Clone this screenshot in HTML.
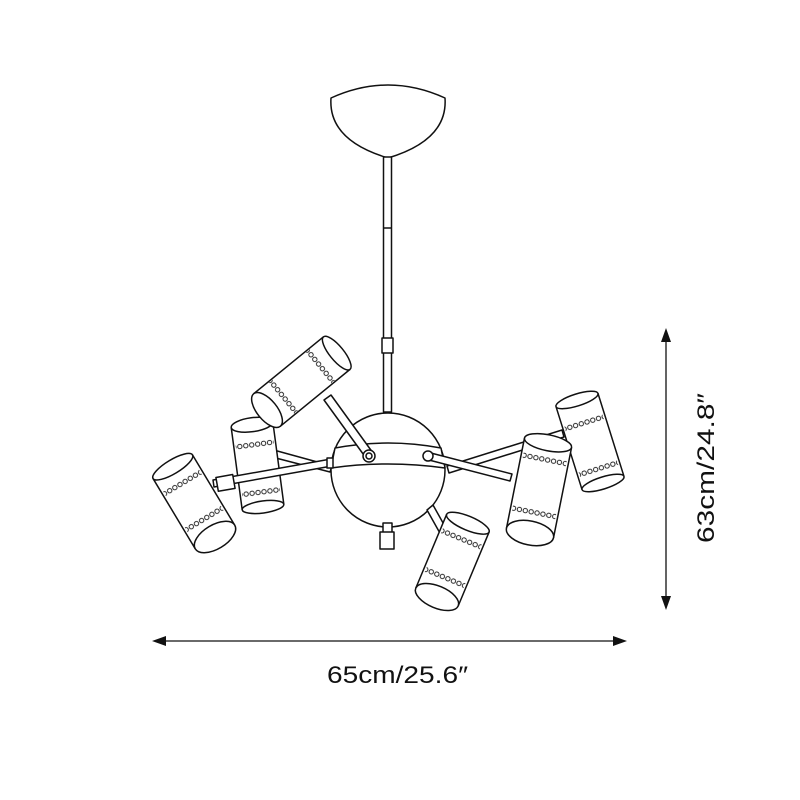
<!DOCTYPE html>
<html><head><meta charset="utf-8"><style>
html,body{margin:0;padding:0;background:#fff;}
svg{display:block;}
</style></head><body>
<svg width="800" height="800" viewBox="0 0 800 800" xmlns="http://www.w3.org/2000/svg">
<defs>
<pattern id="dots" x="0" y="0" width="6" height="6" patternUnits="userSpaceOnUse">
<circle cx="3" cy="3" r="2.2" fill="#fff" stroke="#111" stroke-width="0.9"/>
</pattern>
</defs>
<g fill="none" stroke="#111" stroke-width="1.5" stroke-linejoin="round">
<path d="M331,98 Q388,72 445,98 Q448,140 388,158 Q328,140 331,98 Z" fill="#fff"/>
<rect x="383.5" y="157" width="8" height="255" fill="#fff"/>
<line x1="383.5" y1="228" x2="391.5" y2="228"/>
<rect x="382" y="338" width="11" height="15" fill="#fff"/>

<path d="M270,449 L332,466 L330,472 L268,456 Z" fill="#fff"/>
<path d="M447,466 L562,430 L564,437 L449,473 Z" fill="#fff"/>

<g transform="translate(263,507) rotate(172.4)">
<rect x="-21" y="0" width="42" height="83" fill="#fff" stroke="none"/>
<path d="M-21,0 L-21,83 M21,0 L21,83"/>
<ellipse cx="0" cy="0" rx="21" ry="6" fill="#fff"/>
<ellipse cx="0" cy="83" rx="21" ry="7" fill="#fff"/>
<rect x="-19" y="12" width="38" height="6" fill="url(#dots)" stroke="none"/>
<rect x="-19" y="60" width="38" height="6" fill="url(#dots)" stroke="none"/>
</g>
<g transform="translate(603,483) rotate(162.6)">
<rect x="-22" y="0" width="44" height="87" fill="#fff" stroke="none"/>
<path d="M-22,0 L-22,87 M22,0 L22,87"/>
<ellipse cx="0" cy="0" rx="22" ry="6" fill="#fff"/>
<ellipse cx="0" cy="87" rx="22" ry="6" fill="#fff"/>
<rect x="-20" y="12" width="40" height="6" fill="url(#dots)" stroke="none"/>
<rect x="-20" y="60" width="40" height="6" fill="url(#dots)" stroke="none"/>
</g>

<circle cx="388" cy="470" r="57" fill="#fff"/>
<path d="M335,448 Q388,438 441,448 L445,468 Q388,460 331,468 Z" fill="#fff"/>
<rect x="383" y="523" width="9" height="10" fill="#fff"/>
<rect x="380" y="532" width="14" height="17" fill="#fff"/>

<path d="M213,480 L331,459 L332,466 L214,487 Z" fill="#fff"/>
<rect x="217" y="476" width="17" height="14" fill="#fff" transform="rotate(-10 225 483)"/>
<rect x="327" y="458" width="6" height="10" fill="#fff"/>
<path d="M427,452 L512,474 L510,481 L425,459 Z" fill="#fff"/>
<circle cx="428" cy="456" r="5" fill="#fff"/>
<path d="M324,400 L331,395 L373,453 L366,458 Z" fill="#fff"/>
<circle cx="369" cy="456" r="6" fill="#fff"/>
<circle cx="369" cy="456" r="3"/>
<path d="M427,510 L433,505 L447,530 L441,535 Z" fill="#fff"/>

<g transform="translate(267,410) rotate(-129.2)">
<rect x="-21" y="0" width="42" height="90" fill="#fff" stroke="none"/>
<path d="M-21,0 L-21,90 M21,0 L21,90"/>
<ellipse cx="0" cy="90" rx="21" ry="7" fill="#fff"/>
<ellipse cx="0" cy="0" rx="21" ry="10" fill="#fff"/>
<rect x="-20" y="18" width="40" height="6" fill="url(#dots)" stroke="none"/>
<rect x="-20" y="66" width="40" height="6" fill="url(#dots)" stroke="none"/>
</g>
<g transform="translate(215,537) rotate(149)">
<rect x="-23" y="0" width="46" height="82" fill="#fff" stroke="none"/>
<path d="M-23,0 L-23,82 M23,0 L23,82"/>
<ellipse cx="0" cy="82" rx="23" ry="7" fill="#fff"/>
<ellipse cx="0" cy="0" rx="23" ry="12" fill="#fff"/>
<rect x="-21" y="18" width="42" height="6" fill="url(#dots)" stroke="none"/>
<rect x="-21" y="60" width="42" height="6" fill="url(#dots)" stroke="none"/>
</g>
<g transform="translate(437,597) rotate(-157.3)">
<rect x="-23" y="0" width="46" height="80" fill="#fff" stroke="none"/>
<path d="M-23,0 L-23,80 M23,0 L23,80"/>
<ellipse cx="0" cy="80" rx="23" ry="7" fill="#fff"/>
<ellipse cx="0" cy="0" rx="23" ry="11" fill="#fff"/>
<rect x="-21" y="18" width="42" height="6" fill="url(#dots)" stroke="none"/>
<rect x="-21" y="60" width="42" height="6" fill="url(#dots)" stroke="none"/>
</g>
<g transform="translate(530,533) rotate(-168.7)">
<rect x="-24" y="0" width="48" height="92" fill="#fff" stroke="none"/>
<path d="M-24,0 L-24,92 M24,0 L24,92"/>
<ellipse cx="0" cy="92" rx="24" ry="8" fill="#fff"/>
<ellipse cx="0" cy="0" rx="24" ry="12" fill="#fff"/>
<rect x="-22" y="18" width="44" height="6" fill="url(#dots)" stroke="none"/>
<rect x="-22" y="72" width="44" height="6" fill="url(#dots)" stroke="none"/>
</g>

<line x1="666" y1="334" x2="666" y2="604" stroke-width="1.3"/>
<path d="M666,328 L661,342 L671,342 Z M666,610 L661,596 L671,596 Z" fill="#111" stroke="none"/>
<line x1="158" y1="641" x2="621" y2="641" stroke-width="1.3"/>
<path d="M152,641 L166,636 L166,646 Z M627,641 L613,636 L613,646 Z" fill="#111" stroke="none"/>
</g>
<text x="327" y="683" textLength="141" lengthAdjust="spacingAndGlyphs" font-family="Liberation Sans, sans-serif" font-size="24" fill="#111">65cm/25.6″</text>
<text transform="translate(714,543) rotate(-90)" textLength="150" lengthAdjust="spacingAndGlyphs" font-family="Liberation Sans, sans-serif" font-size="24" fill="#111">63cm/24.8″</text>
</svg>
</body></html>
